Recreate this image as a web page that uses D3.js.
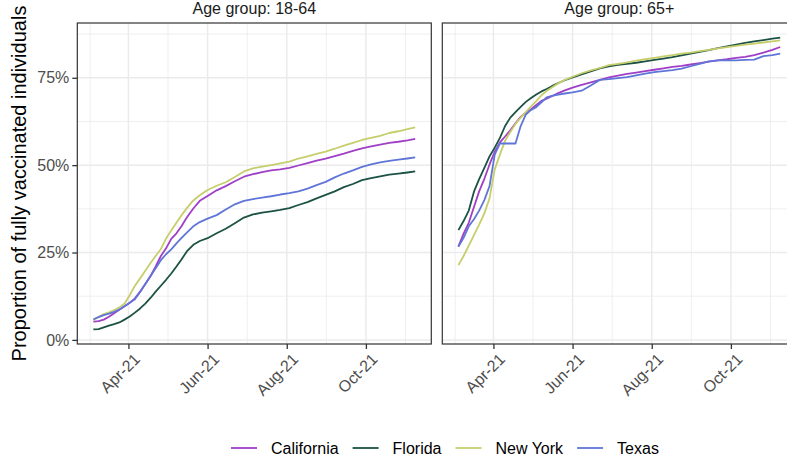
<!DOCTYPE html>
<html>
<head>
<meta charset="utf-8">
<script src="https://cdn.jsdelivr.net/npm/d3@7"></script>
<style>
  body { margin: 0; background: #ffffff; }
  svg { display: block; font-family: "Liberation Sans", Arial, Helvetica, sans-serif; }
</style>
</head>
<body>
<svg id="chart" width="787" height="464"></svg>
<script>
// Observation dates shared by every series
const dates = [
  "2021-03-05","2021-03-09","2021-03-13","2021-03-17","2021-03-21","2021-03-25","2021-03-29",
  "2021-04-02","2021-04-06","2021-04-10","2021-04-14","2021-04-18","2021-04-22","2021-04-26",
  "2021-04-30","2021-05-04","2021-05-08","2021-05-12","2021-05-16","2021-05-21","2021-05-26",
  "2021-06-01","2021-06-08","2021-06-15","2021-06-22","2021-06-29","2021-07-06","2021-07-13",
  "2021-07-20","2021-07-27","2021-08-03","2021-08-10","2021-08-17","2021-08-24","2021-08-31",
  "2021-09-07","2021-09-14","2021-09-21","2021-09-28","2021-10-05","2021-10-12","2021-10-19",
  "2021-10-26","2021-11-02","2021-11-08"
];

const states = ["California", "Florida", "New York", "Texas"];
const stateColors = ["#9f3fc8", "#1c5244", "#c6ce6c", "#5f75d8"];
const ageGroups = ["18-64", "65+"];

// Proportion fully vaccinated, age 18-64
const california1864 = [.052,.054,.058,.066,.076,.086,.096,.106,.119,.138,.160,.182,.210,.240,.262,.289,.305,.326,.350,.376,.398,.412,.428,.440,.454,.467,.474,.480,.485,.488,.492,.499,.506,.513,.519,.526,.533,.541,.548,.554,.559,.564,.567,.571,.575];
const florida1864    = [.030,.031,.036,.041,.045,.050,.058,.067,.078,.090,.104,.120,.138,.155,.172,.190,.210,.231,.253,.272,.283,.291,.305,.318,.334,.350,.359,.364,.368,.372,.377,.386,.394,.405,.415,.425,.437,.446,.457,.463,.468,.473,.476,.479,.482];
const newYork1864    = [.056,.066,.074,.079,.085,.093,.104,.128,.155,.176,.198,.220,.240,.260,.290,.313,.335,.357,.377,.399,.414,.429,.441,.451,.466,.482,.491,.496,.500,.505,.510,.519,.525,.532,.539,.547,.556,.564,.572,.578,.584,.592,.597,.603,.608];
const texas1864      = [.059,.065,.071,.075,.080,.087,.096,.106,.116,.137,.160,.183,.205,.228,.245,.259,.276,.292,.307,.325,.337,.347,.357,.373,.388,.398,.403,.407,.411,.416,.420,.425,.433,.443,.452,.465,.476,.485,.495,.502,.508,.512,.516,.519,.522];

// Proportion fully vaccinated, age 65+
const california65 = [.267,.304,.335,.380,.425,.461,.502,.538,.565,.582,.600,.620,.638,.650,.660,.672,.684,.690,.697,.706,.714,.722,.730,.737,.744,.751,.756,.761,.765,.769,.773,.777,.781,.784,.788,.792,.796,.800,.803,.807,.810,.815,.822,.830,.838];
const florida65    = [.314,.340,.370,.424,.460,.492,.525,.550,.578,.612,.636,.652,.667,.681,.692,.702,.711,.718,.726,.735,.743,.751,.760,.768,.777,.783,.787,.790,.793,.797,.801,.805,.809,.814,.819,.824,.829,.835,.840,.845,.850,.854,.858,.862,.865];
const newYork65    = [.214,.240,.270,.300,.330,.362,.405,.488,.530,.570,.595,.618,.636,.652,.668,.683,.700,.712,.722,.734,.744,.753,.763,.771,.778,.786,.790,.794,.799,.803,.807,.811,.815,.819,.822,.826,.830,.834,.838,.841,.845,.848,.851,.854,.857];
const texas65      = [.267,.292,.325,.345,.370,.400,.440,.530,.562,.562,.562,.562,.612,.645,.658,.666,.680,.694,.698,.702,.705,.708,.713,.728,.744,.746,.749,.752,.757,.762,.766,.769,.772,.776,.783,.790,.797,.800,.800,.800,.801,.802,.812,.815,.819];

const yTickValues = [0, 0.25, 0.5, 0.75];
const yTickLabels = ["0%", "25%", "50%", "75%"];
const xTickLabels = ["Apr-21", "Jun-21", "Aug-21", "Oct-21"];
const yTitle = "Proportion of fully vaccinated individuals";

const valuesByGroup = {
  "18-64": [california1864, florida1864, newYork1864, texas1864],
  "65+":   [california65, florida65, newYork65, texas65]
};

// ---- layout ----
const svg = d3.select("#chart");
const panelW = 354, panelTop = 23, panelBottom = 344;
const panelH = panelBottom - panelTop;
const panelLefts = [77.3, 442.3];
const gridColor = "#ebebeb", frameColor = "#333333";

const parse = d3.timeParse("%Y-%m-%d");
const xDates = dates.map(parse);

// continuous scales with 5% padding on each side
const xExt = d3.extent(xDates);
const xPad = (xExt[1] - xExt[0]) * 0.05;
const x = d3.scaleTime()
  .domain([new Date(+xExt[0] - xPad), new Date(+xExt[1] + xPad)])
  .range([0, panelW]);

const allValues = Object.values(valuesByGroup).flat(2);
const yExt = d3.extent(allValues);
const yPad = (yExt[1] - yExt[0]) * 0.05;
const y = d3.scaleLinear()
  .domain([yExt[0] - yPad, yExt[1] + yPad])
  .range([panelH, 0]);

// bimonthly breaks; minor grid sits halfway between them
const monthBreaks = d3.timeMonth.range(new Date(2021, 1, 1), new Date(2022, 0, 2), 2);
const inX = d => d >= x.domain()[0] && d <= x.domain()[1];
const xMajor = monthBreaks.filter(inX);
const xMinor = d3.pairs(monthBreaks).map(([a, b]) => new Date((+a + +b) / 2)).filter(inX);
const yMinor = d3.pairs([-0.25, ...yTickValues, 1]).map(([a, b]) => (a + b) / 2)
  .filter(v => v >= y.domain()[0] && v <= y.domain()[1]);

const line = d3.line()
  .x((d, i) => x(xDates[i]))
  .y(d => y(d));

ageGroups.forEach((group, gi) => {
  const g = svg.append("g").attr("transform", `translate(${panelLefts[gi]},${panelTop})`);

  // grid
  g.selectAll(".xminor").data(xMinor).join("line")
    .attr("x1", d => x(d)).attr("x2", d => x(d)).attr("y1", 0).attr("y2", panelH)
    .attr("stroke", gridColor).attr("stroke-width", 0.8);
  g.selectAll(".yminor").data(yMinor).join("line")
    .attr("x1", 0).attr("x2", panelW).attr("y1", d => y(d)).attr("y2", d => y(d))
    .attr("stroke", gridColor).attr("stroke-width", 0.8);
  g.selectAll(".xmajor").data(xMajor).join("line")
    .attr("x1", d => x(d)).attr("x2", d => x(d)).attr("y1", 0).attr("y2", panelH)
    .attr("stroke", gridColor).attr("stroke-width", 1.5);
  g.selectAll(".ymajor").data(yTickValues).join("line")
    .attr("x1", 0).attr("x2", panelW).attr("y1", d => y(d)).attr("y2", d => y(d))
    .attr("stroke", gridColor).attr("stroke-width", 1.5);

  // series lines
  valuesByGroup[group].forEach((vals, si) => {
    g.append("path")
      .datum(vals)
      .attr("d", line)
      .attr("fill", "none")
      .attr("stroke", stateColors[si])
      .attr("stroke-width", 1.8)
      .attr("stroke-linejoin", "round");
  });

  // panel frame
  g.append("rect")
    .attr("width", panelW).attr("height", panelH)
    .attr("fill", "none").attr("stroke", frameColor).attr("stroke-width", 1.2);

  // strip label
  svg.append("text")
    .attr("x", panelLefts[gi] + panelW / 2).attr("y", 14)
    .attr("text-anchor", "middle")
    .attr("font-size", 16).attr("fill", "#1a1a1a")
    .text("Age group: " + group);

  // x axis
  const xAxis = d3.axisBottom(x)
    .tickValues(xMajor)
    .tickFormat((d, i) => xTickLabels[i])
    .tickSize(5).tickPadding(0);
  const xa = g.append("g").attr("transform", `translate(0,${panelH})`).call(xAxis);
  xa.select(".domain").remove();
  xa.selectAll(".tick line").attr("stroke", frameColor).attr("stroke-width", 1.3);
  xa.selectAll(".tick text")
    .attr("font-size", 16).attr("fill", "#4d4d4d")
    .attr("text-anchor", "end")
    .attr("x", 0).attr("y", 0).attr("dy", "0.72em")
    .attr("transform", "translate(4,8) rotate(-45)");

  // y axis only on the first panel
  if (gi === 0) {
    const yAxis = d3.axisLeft(y)
      .tickValues(yTickValues)
      .tickFormat((d, i) => yTickLabels[i])
      .tickSize(5).tickPadding(3);
    const ya = g.append("g").call(yAxis);
    ya.select(".domain").remove();
    ya.selectAll(".tick line").attr("stroke", frameColor).attr("stroke-width", 1.3);
    ya.selectAll(".tick text").attr("font-size", 16).attr("fill", "#4d4d4d");
  }
});
svg.selectAll(".tick text").attr("font-family", null);

// y axis title
svg.append("text")
  .attr("transform", `translate(26,${(panelTop + panelBottom) / 2}) rotate(-90)`)
  .attr("text-anchor", "middle")
  .attr("font-size", 20).attr("fill", "#000")
  .text(yTitle);

// legend
const legend = svg.append("g");
const keyW = 26, keyGap = 14, itemGap = 14, legendY = 448;
let cursor = 0;
states.forEach((s, i) => {
  const item = legend.append("g").attr("transform", `translate(${cursor},0)`);
  item.append("line")
    .attr("x1", 0).attr("x2", keyW).attr("y1", legendY).attr("y2", legendY)
    .attr("stroke", stateColors[i]).attr("stroke-width", 1.8);
  const t = item.append("text")
    .attr("x", keyW + keyGap).attr("y", legendY).attr("dy", "0.36em")
    .attr("font-size", 16).attr("fill", "#000")
    .text(s);
  cursor += keyW + keyGap + t.node().getComputedTextLength() + itemGap;
});
const legendWidth = cursor - itemGap;
legend.attr("transform", `translate(${231 - 0},0)`);
</script>
</body>
</html>
